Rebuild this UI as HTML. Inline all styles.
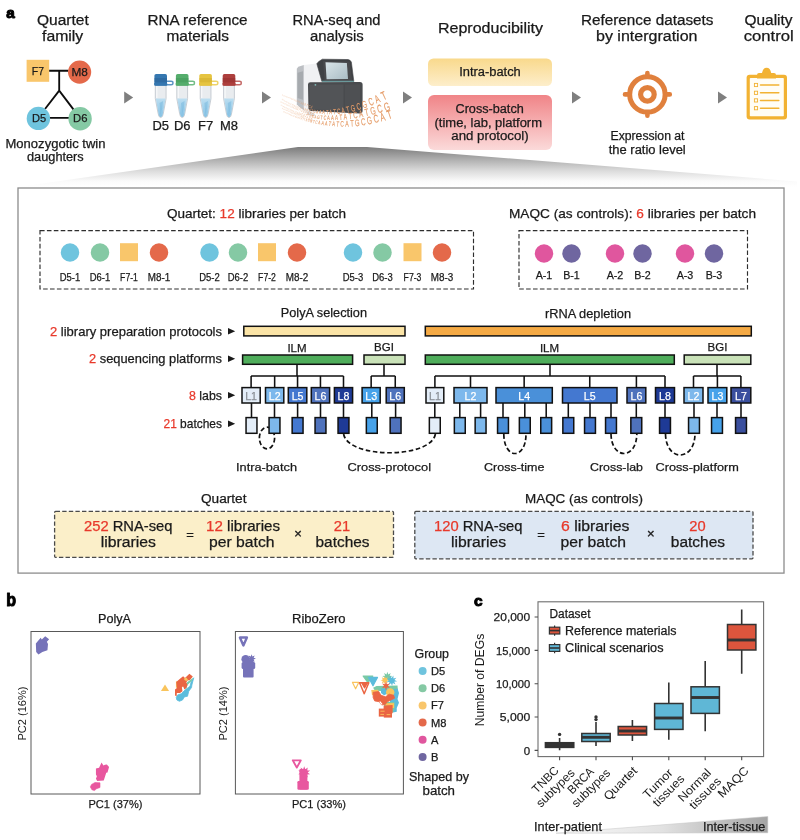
<!DOCTYPE html>
<html><head><meta charset="utf-8"><title>Figure</title>
<style>
html,body{margin:0;padding:0;background:#fff;}
svg{display:block;font-family:"Liberation Sans",sans-serif;}
</style></head><body>
<svg width="800" height="840" viewBox="0 0 800 840">
<defs>
<linearGradient id="gf" x1="0" y1="0" x2="0" y2="1"><stop offset="0" stop-color="#7c7c7c"/><stop offset="0.3" stop-color="#adadad"/><stop offset="0.6" stop-color="#dcdcdc"/><stop offset="0.85" stop-color="#fafafa"/><stop offset="1" stop-color="#ffffff"/></linearGradient>
<linearGradient id="gy" x1="0" y1="0" x2="0" y2="1"><stop offset="0" stop-color="#f9d98c"/><stop offset="1" stop-color="#fdeecb"/></linearGradient>
<linearGradient id="gr" x1="0" y1="0" x2="0" y2="1"><stop offset="0" stop-color="#f08487"/><stop offset="1" stop-color="#fbdada"/></linearGradient>
<linearGradient id="gt" x1="0" y1="0" x2="1" y2="0"><stop offset="0" stop-color="#fbfbfb"/><stop offset="0.5" stop-color="#e2e2e2"/><stop offset="1" stop-color="#a4a4a4"/></linearGradient>
<linearGradient id="gliq" x1="0" y1="0" x2="0" y2="1"><stop offset="0" stop-color="#bcdef1"/><stop offset="1" stop-color="#86c2e4"/></linearGradient>
<linearGradient id="gscr" x1="0" y1="0" x2="1" y2="1"><stop offset="0" stop-color="#d9e4e8"/><stop offset="1" stop-color="#a9bcc4"/></linearGradient>
<linearGradient id="gside" x1="0" y1="0" x2="1" y2="0"><stop offset="0" stop-color="#c9ccd0"/><stop offset="1" stop-color="#f2f3f5"/></linearGradient>
</defs>
<text x="6.20" y="17.50" font-size="14.4" fill="#000" textLength="8.50" lengthAdjust="spacingAndGlyphs" font-weight="bold" stroke="#000" stroke-width="1.0" stroke-linejoin="round">a</text>
<text x="37.00" y="24.70" font-size="14" fill="#1a1a1a" stroke="#1a1a1a" stroke-width="0.25" textLength="51.75" lengthAdjust="spacingAndGlyphs">Quartet</text>
<text x="42.00" y="40.70" font-size="14" fill="#1a1a1a" stroke="#1a1a1a" stroke-width="0.25" textLength="41.25" lengthAdjust="spacingAndGlyphs">family</text>
<text x="147.50" y="24.70" font-size="14" fill="#1a1a1a" stroke="#1a1a1a" stroke-width="0.25" textLength="100.00" lengthAdjust="spacingAndGlyphs">RNA reference</text>
<text x="166.50" y="40.70" font-size="14" fill="#1a1a1a" stroke="#1a1a1a" stroke-width="0.25" textLength="62.50" lengthAdjust="spacingAndGlyphs">materials</text>
<text x="292.50" y="24.70" font-size="14" fill="#1a1a1a" stroke="#1a1a1a" stroke-width="0.25" textLength="88.00" lengthAdjust="spacingAndGlyphs">RNA-seq and</text>
<text x="310.00" y="40.70" font-size="14" fill="#1a1a1a" stroke="#1a1a1a" stroke-width="0.25" textLength="53.75" lengthAdjust="spacingAndGlyphs">analysis</text>
<text x="438.00" y="32.90" font-size="14" fill="#1a1a1a" stroke="#1a1a1a" stroke-width="0.25" textLength="105.00" lengthAdjust="spacingAndGlyphs">Reproducibility</text>
<text x="581.00" y="24.70" font-size="14" fill="#1a1a1a" stroke="#1a1a1a" stroke-width="0.25" textLength="132.50" lengthAdjust="spacingAndGlyphs">Reference datasets</text>
<text x="596.00" y="40.70" font-size="14" fill="#1a1a1a" stroke="#1a1a1a" stroke-width="0.25" textLength="101.50" lengthAdjust="spacingAndGlyphs">by intergration</text>
<text x="744.50" y="24.70" font-size="14" fill="#1a1a1a" stroke="#1a1a1a" stroke-width="0.25" textLength="48.00" lengthAdjust="spacingAndGlyphs">Quality</text>
<text x="743.75" y="40.70" font-size="14" fill="#1a1a1a" stroke="#1a1a1a" stroke-width="0.25" textLength="50.00" lengthAdjust="spacingAndGlyphs">control</text>
<g stroke="#0d0d0d" stroke-width="1.85" fill="none" stroke-linecap="butt"><path d="M49 70.7H68.5M59.2 70.7V91M59.2 90.6L45 109M59.2 90.6L73.6 109.6M49 117.9H69.5"/></g>
<rect x="26.6" y="59.8" width="22.6" height="22" fill="#f9c66b"/>
<circle cx="79.6" cy="72.1" r="11.6" fill="#e4694a"/>
<circle cx="38.4" cy="118.4" r="11.7" fill="#6fc4de"/>
<circle cx="80.1" cy="118.8" r="11.7" fill="#85c9a4"/>
<text x="31.80" y="74.50" font-size="11.2" fill="#1a1a1a" stroke="#1a1a1a" stroke-width="0.25" textLength="12.20" lengthAdjust="spacingAndGlyphs">F7</text>
<text x="71.40" y="75.60" font-size="11.2" fill="#1a1a1a" stroke="#1a1a1a" stroke-width="0.25" textLength="16.40" lengthAdjust="spacingAndGlyphs">M8</text>
<text x="32.00" y="121.60" font-size="11.2" fill="#1a1a1a" stroke="#1a1a1a" stroke-width="0.25" textLength="14.20" lengthAdjust="spacingAndGlyphs">D5</text>
<text x="73.00" y="122.00" font-size="11.2" fill="#1a1a1a" stroke="#1a1a1a" stroke-width="0.25" textLength="14.40" lengthAdjust="spacingAndGlyphs">D6</text>
<text x="5.50" y="147.60" font-size="12" fill="#1a1a1a" stroke="#1a1a1a" stroke-width="0.25" textLength="100.00" lengthAdjust="spacingAndGlyphs">Monozygotic twin</text>
<text x="27.00" y="161.10" font-size="12" fill="#1a1a1a" stroke="#1a1a1a" stroke-width="0.25" textLength="56.75" lengthAdjust="spacingAndGlyphs">daughters</text>
<path d="M124.2 91.5L133.2 97.5L124.2 103.5Z" fill="#7f7f7f"/>
<path d="M262 91.5L271 97.5L262 103.5Z" fill="#7f7f7f"/>
<path d="M403 91.5L412 97.5L403 103.5Z" fill="#7f7f7f"/>
<path d="M572 91.5L581 97.5L572 103.5Z" fill="#7f7f7f"/>
<path d="M718 91.5L727 97.5L718 103.5Z" fill="#7f7f7f"/>
<path d="M155.29999999999998 85 L155.29999999999998 98.6 L158.0 113 Q158.5 117.5 160.7 117.6 Q162.89999999999998 117.5 163.39999999999998 113 L166.1 98.6 L166.1 85Z" fill="#e9ecef" stroke="#b4bcc4" stroke-width="0.7"/>
<path d="M156.79999999999998 86 V98" stroke="#f8f9fa" stroke-width="1.2"/>
<path d="M155.79999999999998 98.6 L158.35 112.8 Q158.79999999999998 116.9 160.7 117 Q162.6 116.9 163.04999999999998 112.8 L165.6 98.6Z" fill="url(#gliq)"/>
<path d="M159.5 103 L160.5 115 L162.29999999999998 108 L163.1 101Z" fill="#6fb4dc" opacity="0.45"/>
<path d="M165.7 84.8 H171.1 Q173.0 84.8 173.0 83 Q173.0 81.3 171.1 81.3 H166.7" fill="none" stroke="#5b93c4" stroke-width="1.4"/>
<rect x="154.39999999999998" y="74.1" width="12.6" height="11.4" rx="1.7" fill="#3577b0"/>
<rect x="154.39999999999998" y="78" width="12.6" height="4.4" fill="#2a6398" opacity="0.55"/>
<rect x="154.14999999999998" y="82.8" width="13.1" height="2.9" rx="0.9" fill="#3577b0"/>
<text x="152.42" y="129.80" font-size="12" fill="#1a1a1a" stroke="#1a1a1a" stroke-width="0.25" textLength="16.57" lengthAdjust="spacingAndGlyphs">D5</text>
<path d="M176.79999999999998 85 L176.79999999999998 98.6 L179.5 113 Q180.0 117.5 182.2 117.6 Q184.39999999999998 117.5 184.89999999999998 113 L187.6 98.6 L187.6 85Z" fill="#e9ecef" stroke="#b4bcc4" stroke-width="0.7"/>
<path d="M178.29999999999998 86 V98" stroke="#f8f9fa" stroke-width="1.2"/>
<path d="M177.29999999999998 98.6 L179.85 112.8 Q180.29999999999998 116.9 182.2 117 Q184.1 116.9 184.54999999999998 112.8 L187.1 98.6Z" fill="url(#gliq)"/>
<path d="M181.0 103 L182.0 115 L183.79999999999998 108 L184.6 101Z" fill="#6fb4dc" opacity="0.45"/>
<path d="M187.2 84.8 H192.6 Q194.5 84.8 194.5 83 Q194.5 81.3 192.6 81.3 H188.2" fill="none" stroke="#72bd86" stroke-width="1.4"/>
<rect x="175.89999999999998" y="74.1" width="12.6" height="11.4" rx="1.7" fill="#55ad6c"/>
<rect x="175.89999999999998" y="78" width="12.6" height="4.4" fill="#43995b" opacity="0.55"/>
<rect x="175.64999999999998" y="82.8" width="13.1" height="2.9" rx="0.9" fill="#55ad6c"/>
<text x="173.92" y="129.80" font-size="12" fill="#1a1a1a" stroke="#1a1a1a" stroke-width="0.25" textLength="16.57" lengthAdjust="spacingAndGlyphs">D6</text>
<path d="M200.2 85 L200.2 98.6 L202.9 113 Q203.4 117.5 205.6 117.6 Q207.79999999999998 117.5 208.29999999999998 113 L211.0 98.6 L211.0 85Z" fill="#e9ecef" stroke="#b4bcc4" stroke-width="0.7"/>
<path d="M201.7 86 V98" stroke="#f8f9fa" stroke-width="1.2"/>
<path d="M200.7 98.6 L203.25 112.8 Q203.7 116.9 205.6 117 Q207.5 116.9 207.95 112.8 L210.5 98.6Z" fill="url(#gliq)"/>
<path d="M204.4 103 L205.4 115 L207.2 108 L208.0 101Z" fill="#6fb4dc" opacity="0.45"/>
<path d="M210.6 84.8 H216.0 Q217.9 84.8 217.9 83 Q217.9 81.3 216.0 81.3 H211.6" fill="none" stroke="#edd36a" stroke-width="1.4"/>
<rect x="199.29999999999998" y="74.1" width="12.6" height="11.4" rx="1.7" fill="#e6c440"/>
<rect x="199.29999999999998" y="78" width="12.6" height="4.4" fill="#d2ae2e" opacity="0.55"/>
<rect x="199.04999999999998" y="82.8" width="13.1" height="2.9" rx="0.9" fill="#e6c440"/>
<text x="198.04" y="129.80" font-size="12" fill="#1a1a1a" stroke="#1a1a1a" stroke-width="0.25" textLength="15.12" lengthAdjust="spacingAndGlyphs">F7</text>
<path d="M223.6 85 L223.6 98.6 L226.3 113 Q226.8 117.5 229.0 117.6 Q231.2 117.5 231.7 113 L234.4 98.6 L234.4 85Z" fill="#e9ecef" stroke="#b4bcc4" stroke-width="0.7"/>
<path d="M225.1 86 V98" stroke="#f8f9fa" stroke-width="1.2"/>
<path d="M224.1 98.6 L226.65 112.8 Q227.1 116.9 229.0 117 Q230.9 116.9 231.35 112.8 L233.9 98.6Z" fill="url(#gliq)"/>
<path d="M227.8 103 L228.8 115 L230.6 108 L231.4 101Z" fill="#6fb4dc" opacity="0.45"/>
<path d="M234.0 84.8 H239.4 Q241.3 84.8 241.3 83 Q241.3 81.3 239.4 81.3 H235.0" fill="none" stroke="#c46866" stroke-width="1.4"/>
<rect x="222.7" y="74.1" width="12.6" height="11.4" rx="1.7" fill="#ad3f3d"/>
<rect x="222.7" y="78" width="12.6" height="4.4" fill="#96302f" opacity="0.55"/>
<rect x="222.45" y="82.8" width="13.1" height="2.9" rx="0.9" fill="#ad3f3d"/>
<text x="220.00" y="129.80" font-size="12" fill="#1a1a1a" stroke="#1a1a1a" stroke-width="0.25" textLength="18.00" lengthAdjust="spacingAndGlyphs">M8</text>
<path d="M296.81 68.87 L298.27 66.85 L303.90 65.05 L303.90 110.50 L298.27 106.00 L296.81 104.31Z" fill="#bcbfc3"/>
<path d="M297.60 72.81 L303.00 71.35 L303.00 99.81 L297.60 98.12Z" fill="#a6aaae"/>
<path d="M303.90 65.05 L318.75 63.25 L322.12 81.47 L308.62 82.94 L308.06 110.50 L314.81 115.00 L314.47 116.35 L307.50 114.77 L303.90 110.50Z" fill="#f0f1f3"/>
<path d="M308.06 110.50 L314.81 113.65 L314.81 116.35 L307.50 114.77Z" fill="#dcdee1"/>
<path d="M316.84 63.70 L318.75 61.56 L322.35 59.20 L348.00 59.54 L350.02 60.32 L351.37 62.12 L353.85 81.47 L321.90 81.47Z" fill="#3f4144" stroke="#3f4144" stroke-width="0.6" stroke-linejoin="round"/>
<path d="M323.02 61.22 L349.69 61.45 L352.27 81.02 L324.60 81.02Z" fill="#48494c"/>
<path d="M325.50 62.35 L346.87 62.91 L348.00 79.00 L326.62 79.34Z" fill="url(#gscr)"/>
<path d="M322.12 80.69 L353.85 80.69 L353.96 82.15 L322.12 82.15Z" fill="#6b999b"/>
<path d="M308 84.6 Q308 82.2 310.4 82.2 L360 82 Q362.6 82 362.6 84.6 L362.6 110.8 Q362.6 113.4 360 113.4 L311 111 Q308.6 110.8 308.4 108.6Z" fill="#494b4e"/>
<path d="M309.19 84.62 L343.50 84.40 L343.50 110.50 L309.97 109.60Z" fill="#525457"/>
<path d="M344.85 84.40 L360.15 84.17 L360.15 111.40 L344.85 110.72Z" fill="#4e5053"/>
<circle cx="315.4" cy="84.8" r="0.9" fill="#7fb7b3"/>
<g fill="#e59c68" stroke="#e59c68" stroke-width="0.15"><text transform="translate(281.74 99.55) rotate(33.0) scale(0.62 1)" font-size="1.33" opacity="0.35">A</text><text transform="translate(282.56 100.08) rotate(32.5) scale(0.62 1)" font-size="1.39" opacity="0.35">G</text><text transform="translate(283.46 100.65) rotate(31.9) scale(0.62 1)" font-size="1.44" opacity="0.35">T</text><text transform="translate(284.24 101.13) rotate(31.4) scale(0.62 1)" font-size="1.50" opacity="0.35">A</text><text transform="translate(285.16 101.69) rotate(30.8) scale(0.62 1)" font-size="1.56" opacity="0.35">C</text><text transform="translate(286.12 102.25) rotate(30.2) scale(0.62 1)" font-size="1.62" opacity="0.35">C</text><text transform="translate(287.11 102.82) rotate(29.5) scale(0.62 1)" font-size="1.68" opacity="0.35">T</text><text transform="translate(288.03 103.33) rotate(28.9) scale(0.62 1)" font-size="1.75" opacity="0.35">G</text><text transform="translate(289.17 103.95) rotate(28.1) scale(0.62 1)" font-size="1.82" opacity="0.35">A</text><text transform="translate(290.28 104.54) rotate(27.4) scale(0.62 1)" font-size="1.90" opacity="0.35">A</text><text transform="translate(291.45 105.13) rotate(26.6) scale(0.62 1)" font-size="1.97" opacity="0.36">T</text><text transform="translate(292.52 105.66) rotate(25.8) scale(0.62 1)" font-size="2.04" opacity="0.37">C</text><text transform="translate(293.78 106.25) rotate(25.0) scale(0.62 1)" font-size="2.13" opacity="0.39">G</text><text transform="translate(295.16 106.88) rotate(24.0) scale(0.62 1)" font-size="2.22" opacity="0.40">G</text><text transform="translate(296.60 107.51) rotate(23.0) scale(0.62 1)" font-size="2.31" opacity="0.42">A</text><text transform="translate(298.02 108.10) rotate(22.0) scale(0.62 1)" font-size="2.41" opacity="0.44">C</text><text transform="translate(299.50 108.68) rotate(21.0) scale(0.62 1)" font-size="2.51" opacity="0.46">A</text><text transform="translate(301.05 109.26) rotate(19.9) scale(0.62 1)" font-size="2.72" opacity="0.49">T</text><text transform="translate(302.55 109.79) rotate(18.8) scale(0.62 1)" font-size="2.93" opacity="0.53">T</text><text transform="translate(304.17 110.32) rotate(17.7) scale(0.62 1)" font-size="3.18" opacity="0.58">A</text><text transform="translate(306.15 110.92) rotate(16.2) scale(0.62 1)" font-size="3.47" opacity="0.63">G</text><text transform="translate(308.43 111.56) rotate(14.6) scale(0.62 1)" font-size="3.80" opacity="0.69">G</text><text transform="translate(310.93 112.16) rotate(12.8) scale(0.62 1)" font-size="4.14" opacity="0.75">T</text><text transform="translate(313.22 112.65) rotate(11.2) scale(0.62 1)" font-size="4.49" opacity="0.82">C</text><text transform="translate(316.01 113.15) rotate(9.2) scale(0.62 1)" font-size="4.89" opacity="0.89">A</text><text transform="translate(319.05 113.59) rotate(7.1) scale(0.62 1)" font-size="5.32" opacity="0.97">A</text><text transform="translate(322.35 113.94) rotate(4.8) scale(0.62 1)" font-size="5.72" opacity="1.00">A</text><text transform="translate(325.89 114.16) rotate(2.5) scale(0.62 1)" font-size="6.12" opacity="1.00">T</text><text transform="translate(329.25 114.24) rotate(0.2) scale(0.62 1)" font-size="6.55" opacity="1.00">A</text><text transform="translate(333.30 114.17) rotate(-2.3) scale(0.62 1)" font-size="7.00" opacity="1.00">T</text><text transform="translate(337.15 113.93) rotate(-4.7) scale(0.62 1)" font-size="7.49" opacity="1.00">C</text><text transform="translate(341.80 113.44) rotate(-7.4) scale(0.62 1)" font-size="8.05" opacity="1.00">A</text><text transform="translate(346.78 112.66) rotate(-10.2) scale(0.62 1)" font-size="8.61" opacity="1.00">T</text><text transform="translate(351.50 111.71) rotate(-12.6) scale(0.62 1)" font-size="9.11" opacity="1.00">G</text><text transform="translate(357.43 110.22) rotate(-15.5) scale(0.62 1)" font-size="9.62" opacity="1.00">C</text><text transform="translate(363.36 108.43) rotate(-18.1) scale(0.62 1)" font-size="10.15" opacity="1.00">G</text><text transform="translate(369.97 106.09) rotate(-20.7) scale(0.62 1)" font-size="10.71" opacity="1.00">C</text><text transform="translate(376.57 103.44) rotate(-23.1) scale(0.62 1)" font-size="11.29" opacity="1.00">A</text><text transform="translate(383.52 100.32) rotate(-25.2) scale(0.62 1)" font-size="11.83" opacity="1.00">T</text></g>
<g fill="#e59c68" stroke="#e59c68" stroke-width="0.15"><text transform="translate(280.54 105.34) rotate(31.3) scale(0.62 1)" font-size="1.25" opacity="0.35">T</text><text transform="translate(281.22 105.75) rotate(30.9) scale(0.62 1)" font-size="1.30" opacity="0.35">C</text><text transform="translate(282.02 106.22) rotate(30.4) scale(0.62 1)" font-size="1.35" opacity="0.35">T</text><text transform="translate(282.76 106.65) rotate(30.0) scale(0.62 1)" font-size="1.40" opacity="0.35">G</text><text transform="translate(283.66 107.17) rotate(29.4) scale(0.62 1)" font-size="1.46" opacity="0.35">A</text><text transform="translate(284.56 107.67) rotate(28.9) scale(0.62 1)" font-size="1.52" opacity="0.35">G</text><text transform="translate(285.55 108.20) rotate(28.3) scale(0.62 1)" font-size="1.58" opacity="0.35">T</text><text transform="translate(286.41 108.66) rotate(27.7) scale(0.62 1)" font-size="1.64" opacity="0.35">A</text><text transform="translate(287.42 109.19) rotate(27.1) scale(0.62 1)" font-size="1.71" opacity="0.35">C</text><text transform="translate(288.46 109.71) rotate(26.5) scale(0.62 1)" font-size="1.78" opacity="0.35">C</text><text transform="translate(289.55 110.25) rotate(25.8) scale(0.62 1)" font-size="1.84" opacity="0.35">T</text><text transform="translate(290.56 110.73) rotate(25.1) scale(0.62 1)" font-size="1.92" opacity="0.35">G</text><text transform="translate(291.80 111.30) rotate(24.4) scale(0.62 1)" font-size="2.00" opacity="0.36">A</text><text transform="translate(293.03 111.85) rotate(23.6) scale(0.62 1)" font-size="2.08" opacity="0.38">A</text><text transform="translate(294.30 112.39) rotate(22.8) scale(0.62 1)" font-size="2.16" opacity="0.39">T</text><text transform="translate(295.48 112.88) rotate(22.0) scale(0.62 1)" font-size="2.24" opacity="0.41">C</text><text transform="translate(296.85 113.42) rotate(21.2) scale(0.62 1)" font-size="2.33" opacity="0.42">G</text><text transform="translate(298.36 113.99) rotate(20.2) scale(0.62 1)" font-size="2.43" opacity="0.44">G</text><text transform="translate(299.95 114.56) rotate(19.2) scale(0.62 1)" font-size="2.57" opacity="0.47">A</text><text transform="translate(301.55 115.10) rotate(18.2) scale(0.62 1)" font-size="2.80" opacity="0.51">C</text><text transform="translate(303.29 115.66) rotate(17.1) scale(0.62 1)" font-size="3.05" opacity="0.56">A</text><text transform="translate(305.19 116.22) rotate(16.0) scale(0.62 1)" font-size="3.31" opacity="0.60">T</text><text transform="translate(307.01 116.73) rotate(14.8) scale(0.62 1)" font-size="3.57" opacity="0.65">T</text><text transform="translate(308.99 117.23) rotate(13.6) scale(0.62 1)" font-size="3.88" opacity="0.70">A</text><text transform="translate(311.40 117.78) rotate(12.2) scale(0.62 1)" font-size="4.23" opacity="0.77">G</text><text transform="translate(314.18 118.34) rotate(10.5) scale(0.62 1)" font-size="4.63" opacity="0.84">A</text><text transform="translate(317.06 118.83) rotate(8.8) scale(0.62 1)" font-size="5.05" opacity="0.92">G</text><text transform="translate(320.37 119.28) rotate(6.9) scale(0.62 1)" font-size="5.46" opacity="0.99">T</text><text transform="translate(323.38 119.60) rotate(5.3) scale(0.62 1)" font-size="5.84" opacity="1.00">C</text><text transform="translate(327.00 119.87) rotate(3.3) scale(0.62 1)" font-size="6.28" opacity="1.00">A</text><text transform="translate(330.88 120.03) rotate(1.3) scale(0.62 1)" font-size="6.74" opacity="1.00">A</text><text transform="translate(335.06 120.05) rotate(-0.7) scale(0.62 1)" font-size="7.24" opacity="1.00">A</text><text transform="translate(339.54 119.91) rotate(-2.8) scale(0.62 1)" font-size="7.75" opacity="1.00">T</text><text transform="translate(343.80 119.64) rotate(-4.6) scale(0.62 1)" font-size="8.29" opacity="1.00">A</text><text transform="translate(348.93 119.13) rotate(-6.7) scale(0.62 1)" font-size="8.85" opacity="1.00">T</text><text transform="translate(353.77 118.49) rotate(-8.4) scale(0.62 1)" font-size="9.30" opacity="1.00">C</text><text transform="translate(359.50 117.55) rotate(-10.3) scale(0.62 1)" font-size="9.80" opacity="1.00">A</text><text transform="translate(365.54 116.36) rotate(-12.0) scale(0.62 1)" font-size="10.30" opacity="1.00">T</text><text transform="translate(371.17 115.09) rotate(-13.4) scale(0.62 1)" font-size="10.83" opacity="1.00">G</text><text transform="translate(378.22 113.32) rotate(-14.8) scale(0.62 1)" font-size="11.43" opacity="1.00">C</text><text transform="translate(385.25 111.39) rotate(-15.9) scale(0.62 1)" font-size="11.92" opacity="1.00">G</text></g>
<g fill="#e59c68" stroke="#e59c68" stroke-width="0.15"><text transform="translate(283.13 112.08) rotate(26.1) scale(0.62 1)" font-size="1.43" opacity="0.35">G</text><text transform="translate(284.06 112.53) rotate(25.8) scale(0.62 1)" font-size="1.48" opacity="0.35">T</text><text transform="translate(284.86 112.92) rotate(25.4) scale(0.62 1)" font-size="1.54" opacity="0.35">A</text><text transform="translate(285.81 113.36) rotate(25.1) scale(0.62 1)" font-size="1.60" opacity="0.35">C</text><text transform="translate(286.79 113.82) rotate(24.7) scale(0.62 1)" font-size="1.67" opacity="0.35">C</text><text transform="translate(287.81 114.28) rotate(24.2) scale(0.62 1)" font-size="1.73" opacity="0.35">T</text><text transform="translate(288.75 114.70) rotate(23.9) scale(0.62 1)" font-size="1.80" opacity="0.35">G</text><text transform="translate(289.92 115.21) rotate(23.4) scale(0.62 1)" font-size="1.87" opacity="0.35">A</text><text transform="translate(291.07 115.70) rotate(22.9) scale(0.62 1)" font-size="1.95" opacity="0.35">A</text><text transform="translate(292.27 116.20) rotate(22.4) scale(0.62 1)" font-size="2.02" opacity="0.37">T</text><text transform="translate(293.37 116.65) rotate(22.0) scale(0.62 1)" font-size="2.10" opacity="0.38">C</text><text transform="translate(294.66 117.17) rotate(21.4) scale(0.62 1)" font-size="2.19" opacity="0.40">G</text><text transform="translate(296.08 117.72) rotate(20.8) scale(0.62 1)" font-size="2.28" opacity="0.41">G</text><text transform="translate(297.56 118.27) rotate(20.2) scale(0.62 1)" font-size="2.38" opacity="0.43">A</text><text transform="translate(299.01 118.80) rotate(19.6) scale(0.62 1)" font-size="2.47" opacity="0.45">C</text><text transform="translate(300.55 119.33) rotate(19.0) scale(0.62 1)" font-size="2.66" opacity="0.48">A</text><text transform="translate(302.20 119.89) rotate(18.3) scale(0.62 1)" font-size="2.88" opacity="0.52">T</text><text transform="translate(303.79 120.40) rotate(17.6) scale(0.62 1)" font-size="3.11" opacity="0.57">T</text><text transform="translate(305.50 120.94) rotate(16.8) scale(0.62 1)" font-size="3.37" opacity="0.61">A</text><text transform="translate(307.60 121.55) rotate(15.9) scale(0.62 1)" font-size="3.68" opacity="0.67">G</text><text transform="translate(310.03 122.22) rotate(14.9) scale(0.62 1)" font-size="4.04" opacity="0.73">G</text><text transform="translate(312.67 122.90) rotate(13.7) scale(0.62 1)" font-size="4.39" opacity="0.80">T</text><text transform="translate(315.10 123.46) rotate(12.7) scale(0.62 1)" font-size="4.76" opacity="0.87">C</text><text transform="translate(318.06 124.09) rotate(11.3) scale(0.62 1)" font-size="5.19" opacity="0.94">A</text><text transform="translate(321.27 124.70) rotate(9.9) scale(0.62 1)" font-size="5.59" opacity="1.00">A</text><text transform="translate(324.74 125.26) rotate(8.4) scale(0.62 1)" font-size="6.01" opacity="1.00">A</text><text transform="translate(328.45 125.75) rotate(6.7) scale(0.62 1)" font-size="6.43" opacity="1.00">T</text><text transform="translate(331.99 126.12) rotate(5.2) scale(0.62 1)" font-size="6.87" opacity="1.00">A</text><text transform="translate(336.24 126.43) rotate(3.3) scale(0.62 1)" font-size="7.35" opacity="1.00">T</text><text transform="translate(340.29 126.60) rotate(1.5) scale(0.62 1)" font-size="7.87" opacity="1.00">C</text><text transform="translate(345.16 126.63) rotate(-0.6) scale(0.62 1)" font-size="8.45" opacity="1.00">A</text><text transform="translate(350.38 126.47) rotate(-2.9) scale(0.62 1)" font-size="8.98" opacity="1.00">T</text><text transform="translate(355.29 126.13) rotate(-5.0) scale(0.62 1)" font-size="9.44" opacity="1.00">G</text><text transform="translate(361.44 125.45) rotate(-7.6) scale(0.62 1)" font-size="9.97" opacity="1.00">C</text><text transform="translate(367.59 124.50) rotate(-10.1) scale(0.62 1)" font-size="10.52" opacity="1.00">G</text><text transform="translate(374.44 123.11) rotate(-12.8) scale(0.62 1)" font-size="11.10" opacity="1.00">C</text><text transform="translate(381.28 121.38) rotate(-15.4) scale(0.62 1)" font-size="11.70" opacity="1.00">A</text><text transform="translate(388.44 119.22) rotate(-18.1) scale(0.62 1)" font-size="12.03" opacity="1.00">T</text></g>
<rect x="428" y="58.5" width="124" height="27.5" rx="5.5" fill="url(#gy)"/>
<rect x="428" y="95" width="124" height="55" rx="6" fill="url(#gr)"/>
<text x="459.25" y="76.10" font-size="12" fill="#1a1a1a" stroke="#1a1a1a" stroke-width="0.25" textLength="61.50" lengthAdjust="spacingAndGlyphs">Intra-batch</text>
<text x="455.50" y="112.80" font-size="12" fill="#1a1a1a" stroke="#1a1a1a" stroke-width="0.25" textLength="68.25" lengthAdjust="spacingAndGlyphs">Cross-batch</text>
<text x="434.50" y="126.50" font-size="12" fill="#1a1a1a" stroke="#1a1a1a" stroke-width="0.25" textLength="107.50" lengthAdjust="spacingAndGlyphs">(time, lab, platform</text>
<text x="451.25" y="140.20" font-size="12" fill="#1a1a1a" stroke="#1a1a1a" stroke-width="0.25" textLength="77.50" lengthAdjust="spacingAndGlyphs">and protocol)</text>
<g fill="none" stroke="#e0803d"><circle cx="647.4" cy="94.4" r="17.7" stroke-width="5"/><circle cx="647.4" cy="94.4" r="6.8" stroke-width="5.2"/><path d="M647.4 73V76M647.4 112.8V115.8M625 94.4H628M666.8 94.4H669.8" stroke-width="4.6" stroke-linecap="round"/></g>
<text x="610.50" y="140.20" font-size="12" fill="#1a1a1a" stroke="#1a1a1a" stroke-width="0.25" textLength="74.00" lengthAdjust="spacingAndGlyphs">Expression at</text>
<text x="608.75" y="153.70" font-size="12" fill="#1a1a1a" stroke="#1a1a1a" stroke-width="0.25" textLength="77.00" lengthAdjust="spacingAndGlyphs">the ratio level</text>
<rect x="746.6" y="74.7" width="40.4" height="44.7" rx="3" fill="#f2b233"/>
<rect x="749.8" y="78" width="34" height="38.2" rx="0.8" fill="#fffdf6"/>
<path d="M757 78.5 V75 Q757 73 759 73 H762 Q763 67.8 766.6 67.8 Q770.2 67.8 771.2 73 H774 Q776 73 776 75 V78.5Z" fill="#f2b233"/>
<rect x="754.4" y="83.4" width="3.2" height="3.2" fill="none" stroke="#f2b233" stroke-width="0.9"/>
<path d="M760.5 85H778.8" stroke="#f2b233" stroke-width="1.5" stroke-linecap="round"/>
<rect x="754.4" y="91.2" width="3.2" height="3.2" fill="none" stroke="#f2b233" stroke-width="0.9"/>
<path d="M760.5 92.8H778.8" stroke="#f2b233" stroke-width="1.5" stroke-linecap="round"/>
<rect x="754.4" y="98.80000000000001" width="3.2" height="3.2" fill="none" stroke="#f2b233" stroke-width="0.9"/>
<path d="M760.5 100.4H778.8" stroke="#f2b233" stroke-width="1.5" stroke-linecap="round"/>
<rect x="754.4" y="106.60000000000001" width="3.2" height="3.2" fill="none" stroke="#f2b233" stroke-width="0.9"/>
<path d="M760.5 108.2H778.8" stroke="#f2b233" stroke-width="1.5" stroke-linecap="round"/>
<path d="M18 187 L298 147 L367 147 L797 181.5 L797 187Z" fill="url(#gf)"/>
<rect x="18" y="188" width="766" height="385.1" fill="#fff" stroke="#8c8c8c" stroke-width="1.3"/>
<text x="167.00" y="217.60" font-size="13" stroke-width="0.25" textLength="179.00" lengthAdjust="spacingAndGlyphs" xml:space="preserve"><tspan fill="#1a1a1a" stroke="#1a1a1a">Quartet: </tspan><tspan fill="#e8392b" stroke="#e8392b">12</tspan><tspan fill="#1a1a1a" stroke="#1a1a1a"> libraries per batch</tspan></text>
<text x="509.00" y="217.80" font-size="13" stroke-width="0.25" textLength="247.00" lengthAdjust="spacingAndGlyphs" xml:space="preserve"><tspan fill="#1a1a1a" stroke="#1a1a1a">MAQC (as controls): </tspan><tspan fill="#e8392b" stroke="#e8392b">6</tspan><tspan fill="#1a1a1a" stroke="#1a1a1a"> libraries per batch</tspan></text>
<rect x="40" y="230.6" width="433.5" height="58.4" stroke="#2e2e2e" stroke-width="1.15" stroke-dasharray="4.6 2.3" fill="none"/>
<rect x="519" y="230.6" width="228.5" height="58.4" stroke="#2e2e2e" stroke-width="1.15" stroke-dasharray="4.6 2.3" fill="none"/>
<circle cx="70" cy="252.5" r="9.2" fill="#6fc4de"/>
<circle cx="100" cy="252.5" r="9.2" fill="#85c9a4"/>
<rect x="120" y="243.2" width="18" height="18" fill="#f9c66b"/>
<circle cx="159" cy="252.5" r="9.2" fill="#e4694a"/>
<text x="59.75" y="280.70" font-size="10.6" fill="#1a1a1a" stroke="#1a1a1a" stroke-width="0.25" textLength="20.50" lengthAdjust="spacingAndGlyphs">D5-1</text>
<text x="89.75" y="280.70" font-size="10.6" fill="#1a1a1a" stroke="#1a1a1a" stroke-width="0.25" textLength="20.50" lengthAdjust="spacingAndGlyphs">D6-1</text>
<text x="120.10" y="280.70" font-size="10.6" fill="#1a1a1a" stroke="#1a1a1a" stroke-width="0.25" textLength="17.80" lengthAdjust="spacingAndGlyphs">F7-1</text>
<text x="147.75" y="280.70" font-size="10.6" fill="#1a1a1a" stroke="#1a1a1a" stroke-width="0.25" textLength="22.50" lengthAdjust="spacingAndGlyphs">M8-1</text>
<circle cx="209.5" cy="252.5" r="9.2" fill="#6fc4de"/>
<circle cx="238" cy="252.5" r="9.2" fill="#85c9a4"/>
<rect x="258" y="243.2" width="18" height="18" fill="#f9c66b"/>
<circle cx="297" cy="252.5" r="9.2" fill="#e4694a"/>
<text x="199.25" y="280.70" font-size="10.6" fill="#1a1a1a" stroke="#1a1a1a" stroke-width="0.25" textLength="20.50" lengthAdjust="spacingAndGlyphs">D5-2</text>
<text x="227.75" y="280.70" font-size="10.6" fill="#1a1a1a" stroke="#1a1a1a" stroke-width="0.25" textLength="20.50" lengthAdjust="spacingAndGlyphs">D6-2</text>
<text x="258.10" y="280.70" font-size="10.6" fill="#1a1a1a" stroke="#1a1a1a" stroke-width="0.25" textLength="17.80" lengthAdjust="spacingAndGlyphs">F7-2</text>
<text x="285.75" y="280.70" font-size="10.6" fill="#1a1a1a" stroke="#1a1a1a" stroke-width="0.25" textLength="22.50" lengthAdjust="spacingAndGlyphs">M8-2</text>
<circle cx="353" cy="252.5" r="9.2" fill="#6fc4de"/>
<circle cx="382.5" cy="252.5" r="9.2" fill="#85c9a4"/>
<rect x="403.5" y="243.2" width="18" height="18" fill="#f9c66b"/>
<circle cx="442" cy="252.5" r="9.2" fill="#e4694a"/>
<text x="342.75" y="280.70" font-size="10.6" fill="#1a1a1a" stroke="#1a1a1a" stroke-width="0.25" textLength="20.50" lengthAdjust="spacingAndGlyphs">D5-3</text>
<text x="372.25" y="280.70" font-size="10.6" fill="#1a1a1a" stroke="#1a1a1a" stroke-width="0.25" textLength="20.50" lengthAdjust="spacingAndGlyphs">D6-3</text>
<text x="403.60" y="280.70" font-size="10.6" fill="#1a1a1a" stroke="#1a1a1a" stroke-width="0.25" textLength="17.80" lengthAdjust="spacingAndGlyphs">F7-3</text>
<text x="430.75" y="280.70" font-size="10.6" fill="#1a1a1a" stroke="#1a1a1a" stroke-width="0.25" textLength="22.50" lengthAdjust="spacingAndGlyphs">M8-3</text>
<circle cx="544" cy="253.5" r="9.2" fill="#e0569e"/>
<circle cx="571.5" cy="253.5" r="9.2" fill="#6f66a0"/>
<text x="535.70" y="279.00" font-size="11" fill="#1a1a1a" stroke="#1a1a1a" stroke-width="0.25" textLength="16.61" lengthAdjust="spacingAndGlyphs">A-1</text>
<text x="563.20" y="279.00" font-size="11" fill="#1a1a1a" stroke="#1a1a1a" stroke-width="0.25" textLength="16.61" lengthAdjust="spacingAndGlyphs">B-1</text>
<circle cx="615" cy="253.5" r="9.2" fill="#e0569e"/>
<circle cx="642.5" cy="253.5" r="9.2" fill="#6f66a0"/>
<text x="606.70" y="279.00" font-size="11" fill="#1a1a1a" stroke="#1a1a1a" stroke-width="0.25" textLength="16.61" lengthAdjust="spacingAndGlyphs">A-2</text>
<text x="634.20" y="279.00" font-size="11" fill="#1a1a1a" stroke="#1a1a1a" stroke-width="0.25" textLength="16.61" lengthAdjust="spacingAndGlyphs">B-2</text>
<circle cx="685" cy="253.5" r="9.2" fill="#e0569e"/>
<circle cx="714" cy="253.5" r="9.2" fill="#6f66a0"/>
<text x="676.70" y="279.00" font-size="11" fill="#1a1a1a" stroke="#1a1a1a" stroke-width="0.25" textLength="16.61" lengthAdjust="spacingAndGlyphs">A-3</text>
<text x="705.70" y="279.00" font-size="11" fill="#1a1a1a" stroke="#1a1a1a" stroke-width="0.25" textLength="16.61" lengthAdjust="spacingAndGlyphs">B-3</text>
<text x="50.00" y="335.60" font-size="13" stroke-width="0.25" textLength="172.00" lengthAdjust="spacingAndGlyphs" xml:space="preserve"><tspan fill="#e8392b" stroke="#e8392b">2</tspan><tspan fill="#1a1a1a" stroke="#1a1a1a"> library preparation protocols</tspan></text>
<path d="M228 328.0L235.2 331.3L228 334.6Z" fill="#1a1a1a"/>
<text x="89.00" y="363.10" font-size="13" stroke-width="0.25" textLength="133.00" lengthAdjust="spacingAndGlyphs" xml:space="preserve"><tspan fill="#e8392b" stroke="#e8392b">2</tspan><tspan fill="#1a1a1a" stroke="#1a1a1a"> sequencing platforms</tspan></text>
<path d="M228 355.5L235.2 358.8L228 362.1Z" fill="#1a1a1a"/>
<text x="189.00" y="399.60" font-size="13" stroke-width="0.25" textLength="33.00" lengthAdjust="spacingAndGlyphs" xml:space="preserve"><tspan fill="#e8392b" stroke="#e8392b">8</tspan><tspan fill="#1a1a1a" stroke="#1a1a1a"> labs</tspan></text>
<path d="M228 392.0L235.2 395.3L228 398.6Z" fill="#1a1a1a"/>
<text x="163.50" y="428.10" font-size="13" stroke-width="0.25" textLength="58.50" lengthAdjust="spacingAndGlyphs" xml:space="preserve"><tspan fill="#e8392b" stroke="#e8392b">21</tspan><tspan fill="#1a1a1a" stroke="#1a1a1a"> batches</tspan></text>
<path d="M228 420.5L235.2 423.8L228 427.1Z" fill="#1a1a1a"/>
<text x="280.75" y="317.00" font-size="13" fill="#1a1a1a" stroke="#1a1a1a" stroke-width="0.25" textLength="86.25" lengthAdjust="spacingAndGlyphs">PolyA selection</text>
<text x="545.00" y="317.50" font-size="13" fill="#1a1a1a" stroke="#1a1a1a" stroke-width="0.25" textLength="86.00" lengthAdjust="spacingAndGlyphs">rRNA depletion</text>
<rect x="243.8" y="326.3" width="161.2" height="9.6" fill="#fbe4a6" stroke="#111" stroke-width="1.5"/>
<rect x="425.3" y="326.3" width="326" height="9.6" fill="#f5aa45" stroke="#111" stroke-width="1.5"/>
<rect x="242.6" y="355" width="110" height="9.3" fill="#4fad5b" stroke="#111" stroke-width="1.5"/>
<rect x="364" y="355" width="41" height="9.3" fill="#c9e2b8" stroke="#111" stroke-width="1.5"/>
<rect x="425.3" y="355" width="249" height="9.3" fill="#4fad5b" stroke="#111" stroke-width="1.5"/>
<rect x="684.2" y="355" width="66.6" height="9.3" fill="#c9e2b8" stroke="#111" stroke-width="1.5"/>
<text x="287.41" y="351.60" font-size="11.5" fill="#1a1a1a" stroke="#1a1a1a" stroke-width="0.25" textLength="19.17" lengthAdjust="spacingAndGlyphs">ILM</text>
<text x="374.09" y="350.50" font-size="11.5" fill="#1a1a1a" stroke="#1a1a1a" stroke-width="0.25" textLength="19.81" lengthAdjust="spacingAndGlyphs">BGI</text>
<text x="539.91" y="351.60" font-size="11.5" fill="#1a1a1a" stroke="#1a1a1a" stroke-width="0.25" textLength="19.17" lengthAdjust="spacingAndGlyphs">ILM</text>
<text x="707.59" y="350.50" font-size="11.5" fill="#1a1a1a" stroke="#1a1a1a" stroke-width="0.25" textLength="19.81" lengthAdjust="spacingAndGlyphs">BGI</text>
<ellipse cx="267" cy="438" rx="7.6" ry="10.8" stroke="#111" stroke-width="1.7" stroke-dasharray="4.6 2.6" fill="none"/>
<path d="M343.6 434 C348 459 431 459 435.4 434" stroke="#111" stroke-width="1.7" stroke-dasharray="4.6 2.6" fill="none"/>
<path d="M503.8 434 C504 460 526 460 526 434" stroke="#111" stroke-width="1.7" stroke-dasharray="4.6 2.6" fill="none"/>
<path d="M611 434 C611.5 460 636.5 460 636.8 434" stroke="#111" stroke-width="1.7" stroke-dasharray="4.6 2.6" fill="none"/>
<path d="M665.5 434 C666 462 694.5 462 695 434" stroke="#111" stroke-width="1.7" stroke-dasharray="4.6 2.6" fill="none"/>
<path d="M297 364.3V376H251.1M297 376H343.5M251.1 376V387.6M274.65 376V387.6M297.55 376V387.6M320.45000000000005 376V387.6M343.5 376V387.6M251.5 403V417.5M274.5 403V417.5M297.6 403V417.5M320.5 403V417.5M343.5 403V417.5" stroke="#111" stroke-width="1.55" fill="none"/>
<rect x="242" y="387.6" width="18.19999999999999" height="15.4" fill="#e3edf8" stroke="#111" stroke-width="1.5"/>
<text x="245.19" y="399.90" font-size="11.8" fill="#8a8f96" textLength="11.81" lengthAdjust="spacingAndGlyphs" stroke="#8a8f96" stroke-width="0.25">L1</text>
<rect x="246.05" y="417.6" width="10.9" height="15.7" fill="#e3edf8" stroke="#111" stroke-width="1.5"/>
<rect x="265.5" y="387.6" width="18.30000000000001" height="15.4" fill="#7db8ec" stroke="#111" stroke-width="1.5"/>
<text x="268.74" y="399.90" font-size="11.8" fill="#ffffff" textLength="11.81" lengthAdjust="spacingAndGlyphs" stroke="#ffffff" stroke-width="0.25">L2</text>
<rect x="269.05" y="417.6" width="10.9" height="15.7" fill="#7db8ec" stroke="#111" stroke-width="1.5"/>
<rect x="288.3" y="387.6" width="18.5" height="15.4" fill="#4478d0" stroke="#111" stroke-width="1.5"/>
<text x="291.64" y="399.90" font-size="11.8" fill="#ffffff" textLength="11.81" lengthAdjust="spacingAndGlyphs" stroke="#ffffff" stroke-width="0.25">L5</text>
<rect x="292.15000000000003" y="417.6" width="10.9" height="15.7" fill="#4478d0" stroke="#111" stroke-width="1.5"/>
<rect x="311.3" y="387.6" width="18.30000000000001" height="15.4" fill="#4f72bc" stroke="#111" stroke-width="1.5"/>
<text x="314.54" y="399.90" font-size="11.8" fill="#ffffff" textLength="11.81" lengthAdjust="spacingAndGlyphs" stroke="#ffffff" stroke-width="0.25">L6</text>
<rect x="315.05" y="417.6" width="10.9" height="15.7" fill="#4f72bc" stroke="#111" stroke-width="1.5"/>
<rect x="334.4" y="387.6" width="18.200000000000045" height="15.4" fill="#1e3a96" stroke="#111" stroke-width="1.5"/>
<text x="337.59" y="399.90" font-size="11.8" fill="#ffffff" textLength="11.81" lengthAdjust="spacingAndGlyphs" stroke="#ffffff" stroke-width="0.25">L8</text>
<rect x="338.05" y="417.6" width="10.9" height="15.7" fill="#1e3a96" stroke="#111" stroke-width="1.5"/>
<path d="M384 364.3V376H371.15M384 376H395.25M371.15 376V387.6M395.25 376V387.6M371.8 403V417.5M395.6 403V417.5" stroke="#111" stroke-width="1.55" fill="none"/>
<rect x="362.1" y="387.6" width="18.099999999999966" height="15.4" fill="#46a2ea" stroke="#111" stroke-width="1.5"/>
<text x="365.24" y="399.90" font-size="11.8" fill="#ffffff" textLength="11.81" lengthAdjust="spacingAndGlyphs" stroke="#ffffff" stroke-width="0.25">L3</text>
<rect x="366.35" y="417.6" width="10.9" height="15.7" fill="#46a2ea" stroke="#111" stroke-width="1.5"/>
<rect x="386.2" y="387.6" width="18.100000000000023" height="15.4" fill="#4f72bc" stroke="#111" stroke-width="1.5"/>
<text x="389.34" y="399.90" font-size="11.8" fill="#ffffff" textLength="11.81" lengthAdjust="spacingAndGlyphs" stroke="#ffffff" stroke-width="0.25">L6</text>
<rect x="390.15000000000003" y="417.6" width="10.9" height="15.7" fill="#4f72bc" stroke="#111" stroke-width="1.5"/>
<path d="M550 364.3V376H434.9M550 376H665.0M434.9 376V387.6M470.5 376V387.6M524.15 376V387.6M589.75 376V387.6M636.4 376V387.6M665.0 376V387.6M434.8 403V417.5M459.8 403V417.5M480.6 403V417.5M503 403V417.5M524.8 403V417.5M546.2 403V417.5M568.3 403V417.5M590 403V417.5M611 403V417.5M636.3 403V417.5M665 403V417.5" stroke="#111" stroke-width="1.55" fill="none"/>
<rect x="426" y="387.6" width="17.80000000000001" height="15.4" fill="#e3edf8" stroke="#111" stroke-width="1.5"/>
<text x="428.99" y="399.90" font-size="11.8" fill="#8a8f96" textLength="11.81" lengthAdjust="spacingAndGlyphs" stroke="#8a8f96" stroke-width="0.25">L1</text>
<rect x="429.35" y="417.6" width="10.9" height="15.7" fill="#e3edf8" stroke="#111" stroke-width="1.5"/>
<rect x="454" y="387.6" width="33" height="15.4" fill="#7db8ec" stroke="#111" stroke-width="1.5"/>
<text x="464.59" y="399.90" font-size="11.8" fill="#ffffff" textLength="11.81" lengthAdjust="spacingAndGlyphs" stroke="#ffffff" stroke-width="0.25">L2</text>
<rect x="454.35" y="417.6" width="10.9" height="15.7" fill="#7db8ec" stroke="#111" stroke-width="1.5"/>
<rect x="475.15000000000003" y="417.6" width="10.9" height="15.7" fill="#7db8ec" stroke="#111" stroke-width="1.5"/>
<rect x="496" y="387.6" width="56.299999999999955" height="15.4" fill="#4a90d9" stroke="#111" stroke-width="1.5"/>
<text x="518.24" y="399.90" font-size="11.8" fill="#ffffff" textLength="11.81" lengthAdjust="spacingAndGlyphs" stroke="#ffffff" stroke-width="0.25">L4</text>
<rect x="497.55" y="417.6" width="10.9" height="15.7" fill="#4a90d9" stroke="#111" stroke-width="1.5"/>
<rect x="519.3499999999999" y="417.6" width="10.9" height="15.7" fill="#4a90d9" stroke="#111" stroke-width="1.5"/>
<rect x="540.75" y="417.6" width="10.9" height="15.7" fill="#4a90d9" stroke="#111" stroke-width="1.5"/>
<rect x="562.5" y="387.6" width="54.5" height="15.4" fill="#4478d0" stroke="#111" stroke-width="1.5"/>
<text x="583.84" y="399.90" font-size="11.8" fill="#ffffff" textLength="11.81" lengthAdjust="spacingAndGlyphs" stroke="#ffffff" stroke-width="0.25">L5</text>
<rect x="562.8499999999999" y="417.6" width="10.9" height="15.7" fill="#4478d0" stroke="#111" stroke-width="1.5"/>
<rect x="584.55" y="417.6" width="10.9" height="15.7" fill="#4478d0" stroke="#111" stroke-width="1.5"/>
<rect x="605.55" y="417.6" width="10.9" height="15.7" fill="#4478d0" stroke="#111" stroke-width="1.5"/>
<rect x="627" y="387.6" width="18.799999999999955" height="15.4" fill="#4f72bc" stroke="#111" stroke-width="1.5"/>
<text x="630.49" y="399.90" font-size="11.8" fill="#ffffff" textLength="11.81" lengthAdjust="spacingAndGlyphs" stroke="#ffffff" stroke-width="0.25">L6</text>
<rect x="630.8499999999999" y="417.6" width="10.9" height="15.7" fill="#4f72bc" stroke="#111" stroke-width="1.5"/>
<rect x="655.5" y="387.6" width="19.0" height="15.4" fill="#1e3a96" stroke="#111" stroke-width="1.5"/>
<text x="659.09" y="399.90" font-size="11.8" fill="#ffffff" textLength="11.81" lengthAdjust="spacingAndGlyphs" stroke="#ffffff" stroke-width="0.25">L8</text>
<rect x="659.55" y="417.6" width="10.9" height="15.7" fill="#1e3a96" stroke="#111" stroke-width="1.5"/>
<path d="M717 364.3V376H693.5M717 376H740.9M693.5 376V387.6M717.4 376V387.6M740.9 376V387.6M694 403V417.5M717 403V417.5M741 403V417.5" stroke="#111" stroke-width="1.55" fill="none"/>
<rect x="684" y="387.6" width="19" height="15.4" fill="#7db8ec" stroke="#111" stroke-width="1.5"/>
<text x="687.59" y="399.90" font-size="11.8" fill="#ffffff" textLength="11.81" lengthAdjust="spacingAndGlyphs" stroke="#ffffff" stroke-width="0.25">L2</text>
<rect x="688.55" y="417.6" width="10.9" height="15.7" fill="#7db8ec" stroke="#111" stroke-width="1.5"/>
<rect x="708" y="387.6" width="18.799999999999955" height="15.4" fill="#46a2ea" stroke="#111" stroke-width="1.5"/>
<text x="711.49" y="399.90" font-size="11.8" fill="#ffffff" textLength="11.81" lengthAdjust="spacingAndGlyphs" stroke="#ffffff" stroke-width="0.25">L3</text>
<rect x="711.55" y="417.6" width="10.9" height="15.7" fill="#46a2ea" stroke="#111" stroke-width="1.5"/>
<rect x="731" y="387.6" width="19.799999999999955" height="15.4" fill="#3a4f9e" stroke="#111" stroke-width="1.5"/>
<text x="734.99" y="399.90" font-size="11.8" fill="#ffffff" textLength="11.81" lengthAdjust="spacingAndGlyphs" stroke="#ffffff" stroke-width="0.25">L7</text>
<rect x="735.55" y="417.6" width="10.9" height="15.7" fill="#3a4f9e" stroke="#111" stroke-width="1.5"/>
<text x="236.00" y="470.50" font-size="11.5" fill="#1a1a1a" stroke="#1a1a1a" stroke-width="0.25" textLength="61.00" lengthAdjust="spacingAndGlyphs">Intra-batch</text>
<text x="347.50" y="470.50" font-size="11.5" fill="#1a1a1a" stroke="#1a1a1a" stroke-width="0.25" textLength="83.50" lengthAdjust="spacingAndGlyphs">Cross-protocol</text>
<text x="484.00" y="470.50" font-size="11.5" fill="#1a1a1a" stroke="#1a1a1a" stroke-width="0.25" textLength="60.50" lengthAdjust="spacingAndGlyphs">Cross-time</text>
<text x="590.00" y="470.50" font-size="11.5" fill="#1a1a1a" stroke="#1a1a1a" stroke-width="0.25" textLength="53.00" lengthAdjust="spacingAndGlyphs">Cross-lab</text>
<text x="655.50" y="470.50" font-size="11.5" fill="#1a1a1a" stroke="#1a1a1a" stroke-width="0.25" textLength="83.30" lengthAdjust="spacingAndGlyphs">Cross-platform</text>
<text x="201.00" y="503.20" font-size="12.5" fill="#1a1a1a" stroke="#1a1a1a" stroke-width="0.25" textLength="45.50" lengthAdjust="spacingAndGlyphs">Quartet</text>
<text x="525.00" y="503.20" font-size="12.5" fill="#1a1a1a" stroke="#1a1a1a" stroke-width="0.25" textLength="118.00" lengthAdjust="spacingAndGlyphs">MAQC (as controls)</text>
<rect x="54.6" y="511.4" width="338.9" height="45.9" fill="#fbefc9" stroke="#4a4a4a" stroke-width="1.3" stroke-dasharray="4.4 2.2" rx="1"/>
<rect x="414.8" y="511.4" width="338.2" height="47.4" fill="#dde7f3" stroke="#4a4a4a" stroke-width="1.3" stroke-dasharray="4.4 2.2" rx="1"/>
<text x="84.00" y="530.50" font-size="14" stroke-width="0.25" textLength="88.50" lengthAdjust="spacingAndGlyphs" xml:space="preserve"><tspan fill="#e8392b" stroke="#e8392b">252</tspan><tspan fill="#1a1a1a" stroke="#1a1a1a"> RNA-seq</tspan></text>
<text x="100.75" y="546.50" font-size="14" fill="#1a1a1a" stroke="#1a1a1a" stroke-width="0.25" textLength="55.25" lengthAdjust="spacingAndGlyphs">libraries</text>
<text x="186.20" y="539.00" font-size="13" fill="#1a1a1a" stroke="#1a1a1a" stroke-width="0.25" textLength="7.59" lengthAdjust="spacingAndGlyphs">=</text>
<text x="206.00" y="530.50" font-size="14" stroke-width="0.25" textLength="74.00" lengthAdjust="spacingAndGlyphs" xml:space="preserve"><tspan fill="#e8392b" stroke="#e8392b">12</tspan><tspan fill="#1a1a1a" stroke="#1a1a1a"> libraries</tspan></text>
<text x="209.00" y="546.50" font-size="14" fill="#1a1a1a" stroke="#1a1a1a" stroke-width="0.25" textLength="65.50" lengthAdjust="spacingAndGlyphs">per batch</text>
<text x="294.20" y="538.00" font-size="13" fill="#1a1a1a" textLength="7.59" lengthAdjust="spacingAndGlyphs" stroke="#1a1a1a" stroke-width="0.4">×</text>
<text x="333.82" y="530.50" font-size="14" fill="#e8392b" stroke="#e8392b" stroke-width="0.25" textLength="16.35" lengthAdjust="spacingAndGlyphs">21</text>
<text x="315.50" y="546.50" font-size="14" fill="#1a1a1a" stroke="#1a1a1a" stroke-width="0.25" textLength="54.00" lengthAdjust="spacingAndGlyphs">batches</text>
<text x="434.00" y="530.50" font-size="14" stroke-width="0.25" textLength="88.50" lengthAdjust="spacingAndGlyphs" xml:space="preserve"><tspan fill="#e8392b" stroke="#e8392b">120</tspan><tspan fill="#1a1a1a" stroke="#1a1a1a"> RNA-seq</tspan></text>
<text x="451.00" y="546.50" font-size="14" fill="#1a1a1a" stroke="#1a1a1a" stroke-width="0.25" textLength="55.00" lengthAdjust="spacingAndGlyphs">libraries</text>
<text x="537.20" y="539.00" font-size="13" fill="#1a1a1a" stroke="#1a1a1a" stroke-width="0.25" textLength="7.59" lengthAdjust="spacingAndGlyphs">=</text>
<text x="561.00" y="530.50" font-size="14" stroke-width="0.25" textLength="68.50" lengthAdjust="spacingAndGlyphs" xml:space="preserve"><tspan fill="#e8392b" stroke="#e8392b">6</tspan><tspan fill="#1a1a1a" stroke="#1a1a1a"> libraries</tspan></text>
<text x="560.50" y="546.50" font-size="14" fill="#1a1a1a" stroke="#1a1a1a" stroke-width="0.25" textLength="65.50" lengthAdjust="spacingAndGlyphs">per batch</text>
<text x="647.00" y="538.00" font-size="13" fill="#1a1a1a" textLength="7.59" lengthAdjust="spacingAndGlyphs" stroke="#1a1a1a" stroke-width="0.4">×</text>
<text x="689.32" y="530.50" font-size="14" fill="#e8392b" stroke="#e8392b" stroke-width="0.25" textLength="16.35" lengthAdjust="spacingAndGlyphs">20</text>
<text x="670.80" y="546.50" font-size="14" fill="#1a1a1a" stroke="#1a1a1a" stroke-width="0.25" textLength="54.20" lengthAdjust="spacingAndGlyphs">batches</text>
<text x="6.30" y="605.80" font-size="17.6" fill="#000" textLength="9.80" lengthAdjust="spacingAndGlyphs" font-weight="bold" stroke="#000" stroke-width="1.0" stroke-linejoin="round">b</text>
<text x="98.00" y="622.80" font-size="12.8" fill="#1a1a1a" stroke="#1a1a1a" stroke-width="0.25" textLength="33.00" lengthAdjust="spacingAndGlyphs">PolyA</text>
<text x="292.00" y="622.80" font-size="12.8" fill="#1a1a1a" stroke="#1a1a1a" stroke-width="0.25" textLength="53.50" lengthAdjust="spacingAndGlyphs">RiboZero</text>
<rect x="31" y="631.5" width="169" height="162.5" fill="#fff" stroke="#585858" stroke-width="1.0"/>
<rect x="235.4" y="631.5" width="168" height="162.5" fill="#fff" stroke="#585858" stroke-width="1.0"/>
<text x="88.50" y="808.30" font-size="11.8" fill="#1a1a1a" stroke="#1a1a1a" stroke-width="0.25" textLength="54.00" lengthAdjust="spacingAndGlyphs">PC1 (37%)</text>
<text x="292.00" y="808.30" font-size="11.8" fill="#1a1a1a" stroke="#1a1a1a" stroke-width="0.25" textLength="54.00" lengthAdjust="spacingAndGlyphs">PC1 (33%)</text>
<text transform="translate(25.8 713.5) rotate(-90)" x="-27.00" y="0" font-size="11.8" fill="#1a1a1a" textLength="54.00" lengthAdjust="spacingAndGlyphs">PC2 (16%)</text>
<text transform="translate(226.6 713.5) rotate(-90)" x="-27.00" y="0" font-size="11.8" fill="#1a1a1a" textLength="54.00" lengthAdjust="spacingAndGlyphs">PC2 (14%)</text>
<polygon points="35.85,643.50 40.69,637.87 41.81,639.56 45.19,636.19 49.12,639.22 46.87,641.81 48.00,644.06 47.44,650.25 42.37,651.94 38.44,654.52 36.19,651.94" fill="#7673b9"/>
<polygon points="95.94,768.44 99.06,767.81 101.56,762.50 103.44,765.62 105.00,764.69 106.88,764.38 109.06,766.88 107.50,772.50 106.25,772.81 103.75,780.62 97.19,780.94 95.94,778.75 96.88,776.25 95.94,774.38" fill="#e8579f"/>
<polygon points="90.31,786.88 91.56,784.38 95.00,782.50 100.00,782.81 100.00,787.50 96.56,788.75 94.38,790.62 91.88,789.69" fill="#e8579f" stroke="#e8579f" stroke-width="0.6" stroke-linejoin="round"/>
<polygon points="160.94,690.94 165.00,684.38 169.06,690.94" fill="#f9c45c"/>
<polygon points="175.94,681.56 177.00,681.25 177.00,687.50 175.94,688.12" fill="#f9c45c"/>
<polygon points="176.25,697.50 177.50,695.00 181.25,693.75 185.00,690.00 190.00,686.25 191.25,681.25 193.12,678.75 193.75,677.81 191.88,685.00 191.56,687.50 188.75,691.25 187.50,696.25 184.38,696.88 182.50,700.00 179.38,701.25 176.88,700.00" fill="#5bbcdc" stroke="#5bbcdc" stroke-width="0.8" stroke-linejoin="round"/>
<polygon points="183.12,686.25 187.50,681.88 191.88,678.75 193.44,677.81 191.56,680.94 187.50,685.00 186.25,688.75 184.38,688.12" fill="#79c9a6"/>
<polygon points="175.00,689.38 176.88,688.12 176.25,681.88 180.00,678.75 183.12,676.25 185.00,678.12 189.38,673.75 192.81,676.56 190.00,680.00 187.50,680.62 186.25,682.50 187.50,685.00 186.25,688.12 184.38,689.38 183.12,686.25 181.88,687.50 182.50,691.25 180.00,693.12 176.88,693.12 176.56,696.25 175.00,695.62" fill="#ea6543"/>
<polygon points="184.06,678.44 186.25,677.50 188.12,680.00 186.25,680.94 184.38,680.00" fill="#f9c45c"/>
<polygon points="239.90,637.50 246.90,637.50 243.40,645.50" fill="none" stroke="#7673b9" stroke-width="2.4" stroke-linejoin="round"/>
<circle cx="245.6" cy="659.3" r="4.2" fill="#7673b9"/>
<polygon points="251.60,654.20 252.44,656.57 254.71,655.49 253.63,657.76 256.00,658.60 253.63,659.44 254.71,661.71 252.44,660.63 251.60,663.00 250.76,660.63 248.49,661.71 249.57,659.44 247.20,658.60 249.57,657.76 248.49,655.49 250.76,656.57" fill="#7673b9"/>
<rect x="243" y="660" width="10.6" height="17.4" rx="1" fill="#7673b9"/>
<rect x="241.6" y="662" width="13.6" height="7" rx="1.5" fill="#7673b9"/>
<polygon points="292.80,760.40 300.80,760.40 296.80,767.60" fill="none" stroke="#e8579f" stroke-width="1.9" stroke-linejoin="round"/>
<polygon points="304.20,766.20 305.25,769.16 307.84,767.38 306.96,770.40 310.10,770.48 307.61,772.40 310.10,774.32 306.96,774.40 307.84,777.42 305.25,775.64 304.20,778.60 303.15,775.64 300.56,777.42 301.44,774.40 298.30,774.32 300.79,772.40 298.30,770.48 301.44,770.40 300.56,767.38 303.15,769.16" fill="#e8579f"/>
<rect x="299.4" y="769" width="8" height="20.6" rx="1" fill="#e8579f"/>
<rect x="297.4" y="781" width="11.4" height="8.8" rx="1.2" fill="#e8579f"/>
<polygon points="387.40,671.80 388.29,674.56 390.74,673.02 389.65,675.70 392.52,676.10 389.96,677.45 391.90,679.60 389.07,678.99 389.18,681.89 387.40,679.60 385.62,681.89 385.73,678.99 382.90,679.60 384.84,677.45 382.28,676.10 385.15,675.70 384.06,673.02 386.51,674.56" fill="#79c9a6"/>
<polygon points="393.40,675.44 393.43,678.45 396.34,677.67 394.43,680.00 397.16,681.28 394.20,681.83 395.47,684.56 392.85,683.09 392.06,685.99 391.00,683.18 388.54,684.90 389.53,682.06 386.53,681.80 389.12,680.26 387.00,678.13 389.97,678.62 389.71,675.62 391.67,677.90" fill="#5bbcdc"/>
<polygon points="373.13,687.75 376.50,685.88 397.50,685.50 397.88,690.00 393.00,691.50 375.00,690.75" fill="#79c9a6"/>
<polygon points="390.00,690.00 397.50,688.50 399.00,693.00 397.50,699.00 399.00,702.75 396.75,708.00 396.75,711.75 393.00,712.50 390.00,705.00" fill="#5bbcdc"/>
<polygon points="381.00,688.50 387.00,688.50 389.25,693.00 384.00,695.25 381.00,693.00" fill="#5bbcdc"/>
<polygon points="384.80,675.90 385.62,678.21 387.84,677.16 386.79,679.38 389.10,680.20 386.79,681.02 387.84,683.24 385.62,682.19 384.80,684.50 383.98,682.19 381.76,683.24 382.81,681.02 380.50,680.20 382.81,679.38 381.76,677.16 383.98,678.21" fill="#f9c45c"/>
<polygon points="386.00,681.20 386.97,684.13 389.98,683.50 387.93,685.80 389.98,688.10 386.97,687.47 386.00,690.40 385.03,687.47 382.02,688.10 384.07,685.80 382.02,683.50 385.03,684.13" fill="#ea6543"/>
<polygon points="371.25,690.00 378.00,689.63 378.75,692.25 372.00,695.25" fill="#f9c45c"/>
<circle cx="390.2" cy="692.4" r="4.2" fill="#f9c45c"/>
<polygon points="384.00,702.00 394.50,702.00 394.50,708.75 393.00,712.50 384.00,712.50" fill="#79c9a6"/>
<polygon points="385.50,703.13 394.13,703.13 394.13,708.00 385.50,708.00" fill="#f9c45c"/>
<polygon points="373.13,692.25 378.75,691.50 381.00,695.25 385.50,696.75 389.25,694.13 393.75,695.25 394.50,698.25 390.00,700.50 387.00,702.00 385.50,704.25 381.75,705.00 378.75,701.63 374.63,700.88 373.13,697.50" fill="#ea6543" stroke="#ea6543" stroke-width="0.8" stroke-linejoin="round"/>
<polygon points="383.63,705.38 392.63,705.00 392.63,713.25 383.63,713.63" fill="#ea6543"/>
<rect x="379.4" y="709.2" width="6.6" height="6.8" fill="#ea6543" stroke="#ea6543" stroke-width="1.2"/>
<rect x="384.4" y="712.4" width="7" height="4.6" fill="#ea6543" stroke="#ea6543" stroke-width="1.2"/>
<path d="M380.4 711.2H384.6M380.4 714.4H384M386.6 714.6H390.4" stroke="#f9c45c" stroke-width="0.9"/>
<polygon points="379.13,702.00 380.25,701.25 382.50,703.88 381.75,704.63" fill="#ffffff"/>
<polygon points="363.20,676.10 372.80,676.10 368.00,682.70" fill="#79c9a6" stroke="#79c9a6" stroke-width="1.2" stroke-linejoin="round"/>
<polygon points="368.50,677.40 377.50,677.40 373.00,685.80" fill="#5bbcdc" stroke="#5bbcdc" stroke-width="1.2" stroke-linejoin="round"/>
<polygon points="352.50,682.40 358.70,682.40 355.60,688.80" fill="none" stroke="#f9c45c" stroke-width="1.2" stroke-linejoin="round"/>
<polygon points="359.60,682.70 368.80,682.70 364.20,693.70" fill="none" stroke="#ea6543" stroke-width="1.5" stroke-linejoin="round"/>
<polygon points="361.90,683.30 367.30,683.30 364.60,687.90" fill="#ea6543" stroke="#ea6543" stroke-width="1.2" stroke-linejoin="round"/>
<text x="414.50" y="658.00" font-size="12.5" fill="#1a1a1a" stroke="#1a1a1a" stroke-width="0.25" textLength="34.50" lengthAdjust="spacingAndGlyphs">Group</text>
<circle cx="422.6" cy="671.0" r="4" fill="#6fc4de"/>
<text x="431.00" y="675.00" font-size="10.5" fill="#1a1a1a" stroke="#1a1a1a" stroke-width="0.25" textLength="14.23" lengthAdjust="spacingAndGlyphs">D5</text>
<circle cx="422.6" cy="688.2" r="4" fill="#85c9a4"/>
<text x="431.00" y="692.20" font-size="10.5" fill="#1a1a1a" stroke="#1a1a1a" stroke-width="0.25" textLength="14.23" lengthAdjust="spacingAndGlyphs">D6</text>
<circle cx="422.6" cy="705.4" r="4" fill="#f9c66b"/>
<text x="431.00" y="709.40" font-size="10.5" fill="#1a1a1a" stroke="#1a1a1a" stroke-width="0.25" textLength="12.99" lengthAdjust="spacingAndGlyphs">F7</text>
<circle cx="422.6" cy="722.6" r="4" fill="#e4694a"/>
<text x="431.00" y="726.60" font-size="10.5" fill="#1a1a1a" stroke="#1a1a1a" stroke-width="0.25" textLength="15.46" lengthAdjust="spacingAndGlyphs">M8</text>
<circle cx="422.6" cy="739.8" r="4" fill="#e0569e"/>
<text x="431.00" y="743.80" font-size="10.5" fill="#1a1a1a" stroke="#1a1a1a" stroke-width="0.25" textLength="7.42" lengthAdjust="spacingAndGlyphs">A</text>
<circle cx="422.6" cy="757.0" r="4" fill="#6f66a0"/>
<text x="431.00" y="761.00" font-size="10.5" fill="#1a1a1a" stroke="#1a1a1a" stroke-width="0.25" textLength="7.42" lengthAdjust="spacingAndGlyphs">B</text>
<text x="409.00" y="781.00" font-size="12.8" fill="#1a1a1a" stroke="#1a1a1a" stroke-width="0.25" textLength="60.00" lengthAdjust="spacingAndGlyphs">Shaped by</text>
<text x="422.50" y="794.50" font-size="12.8" fill="#1a1a1a" stroke="#1a1a1a" stroke-width="0.25" textLength="32.50" lengthAdjust="spacingAndGlyphs">batch</text>
<text x="474.10" y="605.80" font-size="14.4" fill="#000" textLength="8.60" lengthAdjust="spacingAndGlyphs" font-weight="bold" stroke="#000" stroke-width="1.0" stroke-linejoin="round">c</text>
<rect x="538" y="601.8" width="225.6" height="154.8" fill="#fff" stroke="#6e6e6e" stroke-width="1.1"/>
<text x="523.80" y="754.60" font-size="11.5" fill="#1a1a1a" stroke="#1a1a1a" stroke-width="0.25" textLength="6.40" lengthAdjust="spacingAndGlyphs">0</text>
<text x="499.80" y="721.25" font-size="11.5" fill="#1a1a1a" stroke="#1a1a1a" stroke-width="0.25" textLength="30.40" lengthAdjust="spacingAndGlyphs">5,000</text>
<text x="496.00" y="687.90" font-size="11.5" fill="#1a1a1a" stroke="#1a1a1a" stroke-width="0.25" textLength="34.20" lengthAdjust="spacingAndGlyphs">10,000</text>
<text x="496.00" y="654.55" font-size="11.5" fill="#1a1a1a" stroke="#1a1a1a" stroke-width="0.25" textLength="34.20" lengthAdjust="spacingAndGlyphs">15,000</text>
<text x="493.60" y="621.20" font-size="11.5" fill="#1a1a1a" stroke="#1a1a1a" stroke-width="0.25" textLength="36.60" lengthAdjust="spacingAndGlyphs">20,000</text>
<path d="M534.6 750.40H538M534.6 717.05H538M534.6 683.70H538M534.6 650.35H538M534.6 617.00H538M559.6 756.6V760.2M596 756.6V760.2M632.4 756.6V760.2M668.8 756.6V760.2M705.2 756.6V760.2M741.7 756.6V760.2" stroke="#4d4d4d" stroke-width="1.1" fill="none"/>
<text transform="translate(484.2 680) rotate(-90)" x="-46.25" y="0" font-size="12.5" fill="#1a1a1a" textLength="92.50" lengthAdjust="spacingAndGlyphs">Number of DEGs</text>
<path d="M559.6 738.00V742.70M559.6 747.40V750.30" stroke="#333333" stroke-width="1.6" fill="none"/>
<rect x="545.40" y="742.70" width="28.4" height="4.70" fill="#333333" stroke="#333333" stroke-width="1.5"/>
<path d="M545.40 745.00H573.80" stroke="#333333" stroke-width="2.9"/>
<circle cx="559.6" cy="734.40" r="1.7" fill="#333333"/>
<path d="M596 722.00V733.50M596 741.50V746.00" stroke="#333333" stroke-width="1.6" fill="none"/>
<rect x="581.80" y="733.50" width="28.4" height="8.00" fill="#5fb7d6" stroke="#333333" stroke-width="1.5"/>
<path d="M581.80 737.30H610.20" stroke="#333333" stroke-width="2.9"/>
<circle cx="596" cy="717.00" r="1.7" fill="#333333"/>
<circle cx="596" cy="719.60" r="1.7" fill="#333333"/>
<path d="M632.4 720.00V726.50M632.4 735.00V741.00" stroke="#333333" stroke-width="1.6" fill="none"/>
<rect x="618.20" y="726.50" width="28.4" height="8.50" fill="#dc553d" stroke="#333333" stroke-width="1.5"/>
<path d="M618.20 731.00H646.60" stroke="#333333" stroke-width="2.9"/>
<path d="M668.8 682.50V703.50M668.8 729.40V739.70" stroke="#333333" stroke-width="1.6" fill="none"/>
<rect x="654.60" y="703.50" width="28.4" height="25.90" fill="#5fb7d6" stroke="#333333" stroke-width="1.5"/>
<path d="M654.60 718.00H683.00" stroke="#333333" stroke-width="2.9"/>
<path d="M705.2 661.00V686.80M705.2 713.40V731.30" stroke="#333333" stroke-width="1.6" fill="none"/>
<rect x="691.00" y="686.80" width="28.4" height="26.60" fill="#5fb7d6" stroke="#333333" stroke-width="1.5"/>
<path d="M691.00 697.50H719.40" stroke="#333333" stroke-width="2.9"/>
<path d="M741.7 609.50V624.50M741.7 650.00V673.80" stroke="#333333" stroke-width="1.6" fill="none"/>
<rect x="727.50" y="624.50" width="28.4" height="25.50" fill="#dc553d" stroke="#333333" stroke-width="1.5"/>
<path d="M727.50 640.00H755.90" stroke="#333333" stroke-width="2.9"/>
<text x="549.50" y="617.50" font-size="12.5" fill="#1a1a1a" stroke="#1a1a1a" stroke-width="0.25" textLength="41.00" lengthAdjust="spacingAndGlyphs">Dataset</text>
<path d="M554.6 625.4V635.8000000000001" stroke="#333333" stroke-width="1.2"/>
<rect x="549.4" y="627.2" width="10.4" height="6.8" fill="#dc553d" stroke="#333333" stroke-width="1.2"/>
<path d="M549.4 630.6H559.8" stroke="#333333" stroke-width="1.6"/>
<path d="M554.6 642.8V653.2" stroke="#333333" stroke-width="1.2"/>
<rect x="549.4" y="644.6" width="10.4" height="6.8" fill="#5fb7d6" stroke="#333333" stroke-width="1.2"/>
<path d="M549.4 648H559.8" stroke="#333333" stroke-width="1.6"/>
<text x="565.00" y="634.60" font-size="12.5" fill="#1a1a1a" stroke="#1a1a1a" stroke-width="0.25" textLength="111.50" lengthAdjust="spacingAndGlyphs">Reference materials</text>
<text x="565.00" y="652.20" font-size="12.5" fill="#1a1a1a" stroke="#1a1a1a" stroke-width="0.25" textLength="98.50" lengthAdjust="spacingAndGlyphs">Clinical scenarios</text>
<text transform="translate(559.50 771.30) rotate(-45)" x="-32.01" y="0" font-size="12" fill="#1a1a1a" textLength="32.01" lengthAdjust="spacingAndGlyphs">TNBC</text>
<text transform="translate(575.46 773.64) rotate(-45)" x="-48.75" y="0" font-size="12" fill="#1a1a1a" textLength="48.75" lengthAdjust="spacingAndGlyphs">subtypes</text>
<text transform="translate(594.70 772.30) rotate(-45)" x="-31.67" y="0" font-size="12" fill="#1a1a1a" textLength="31.67" lengthAdjust="spacingAndGlyphs">BRCA</text>
<text transform="translate(611.00 773.60) rotate(-45)" x="-48.75" y="0" font-size="12" fill="#1a1a1a" textLength="48.75" lengthAdjust="spacingAndGlyphs">subtypes</text>
<text transform="translate(638.00 771.50) rotate(-45)" x="-41.82" y="0" font-size="12" fill="#1a1a1a" textLength="41.82" lengthAdjust="spacingAndGlyphs">Quartet</text>
<text transform="translate(673.50 773.50) rotate(-45)" x="-36.28" y="0" font-size="12" fill="#1a1a1a" textLength="36.28" lengthAdjust="spacingAndGlyphs">Tumor</text>
<text transform="translate(685.37 779.53) rotate(-45)" x="-39.59" y="0" font-size="12" fill="#1a1a1a" textLength="39.59" lengthAdjust="spacingAndGlyphs">tissues</text>
<text transform="translate(711.70 773.50) rotate(-45)" x="-40.99" y="0" font-size="12" fill="#1a1a1a" textLength="40.99" lengthAdjust="spacingAndGlyphs">Normal</text>
<text transform="translate(721.90 781.90) rotate(-45)" x="-39.59" y="0" font-size="12" fill="#1a1a1a" textLength="39.59" lengthAdjust="spacingAndGlyphs">tissues</text>
<text transform="translate(749.50 771.50) rotate(-45)" x="-38.16" y="0" font-size="12" fill="#1a1a1a" textLength="38.16" lengthAdjust="spacingAndGlyphs">MAQC</text>
<polygon points="556,833.2 767.8,816.5 767.8,832.8" fill="url(#gt)" stroke="#c4c4c4" stroke-width="0.5"/>
<text x="534.00" y="830.80" font-size="12.8" fill="#1a1a1a" stroke="#1a1a1a" stroke-width="0.25" textLength="68.00" lengthAdjust="spacingAndGlyphs">Inter-patient</text>
<text x="703.00" y="830.80" font-size="12.8" fill="#1a1a1a" stroke="#1a1a1a" stroke-width="0.25" textLength="62.30" lengthAdjust="spacingAndGlyphs">Inter-tissue</text>
<g fill="#e59c68" stroke="#e59c68" stroke-width="0.15"><text transform="translate(281.63 95.26) rotate(22.4) scale(0.62 1)" font-size="1.32" opacity="0.35">T</text><text transform="translate(282.35 95.55) rotate(22.5) scale(0.62 1)" font-size="1.37" opacity="0.35">A</text><text transform="translate(283.19 95.90) rotate(22.6) scale(0.62 1)" font-size="1.43" opacity="0.35">C</text><text transform="translate(284.06 96.27) rotate(22.7) scale(0.62 1)" font-size="1.49" opacity="0.35">C</text><text transform="translate(284.98 96.65) rotate(22.8) scale(0.62 1)" font-size="1.54" opacity="0.35">T</text><text transform="translate(285.82 97.01) rotate(22.9) scale(0.62 1)" font-size="1.60" opacity="0.35">G</text><text transform="translate(286.86 97.45) rotate(23.1) scale(0.62 1)" font-size="1.67" opacity="0.35">A</text><text transform="translate(287.88 97.88) rotate(23.2) scale(0.62 1)" font-size="1.74" opacity="0.35">A</text><text transform="translate(288.95 98.34) rotate(23.3) scale(0.62 1)" font-size="1.80" opacity="0.35">T</text><text transform="translate(289.93 98.77) rotate(23.4) scale(0.62 1)" font-size="1.87" opacity="0.35">C</text><text transform="translate(291.08 99.27) rotate(23.6) scale(0.62 1)" font-size="1.95" opacity="0.35">G</text><text transform="translate(292.35 99.82) rotate(23.8) scale(0.62 1)" font-size="2.03" opacity="0.37">G</text><text transform="translate(293.67 100.41) rotate(23.9) scale(0.62 1)" font-size="2.12" opacity="0.39">A</text><text transform="translate(294.97 100.99) rotate(24.1) scale(0.62 1)" font-size="2.20" opacity="0.40">C</text><text transform="translate(296.32 101.59) rotate(24.3) scale(0.62 1)" font-size="2.29" opacity="0.42">A</text><text transform="translate(297.73 102.23) rotate(24.4) scale(0.62 1)" font-size="2.38" opacity="0.43">T</text><text transform="translate(299.03 102.82) rotate(24.6) scale(0.62 1)" font-size="2.47" opacity="0.45">T</text><text transform="translate(300.38 103.45) rotate(24.8) scale(0.62 1)" font-size="2.63" opacity="0.48">A</text><text transform="translate(302.02 104.21) rotate(25.0) scale(0.62 1)" font-size="2.88" opacity="0.52">G</text><text transform="translate(303.92 105.09) rotate(25.2) scale(0.62 1)" font-size="3.15" opacity="0.57">G</text><text transform="translate(305.98 106.07) rotate(25.5) scale(0.62 1)" font-size="3.43" opacity="0.62">T</text><text transform="translate(307.88 106.98) rotate(25.7) scale(0.62 1)" font-size="3.72" opacity="0.68">C</text><text transform="translate(310.19 108.10) rotate(26.0) scale(0.62 1)" font-size="4.05" opacity="0.74">A</text></g>
<g fill="#e59c68" stroke="#e59c68" stroke-width="0.15"><text transform="translate(280.34 102.17) rotate(26.2) scale(0.62 1)" font-size="1.24" opacity="0.35">A</text><text transform="translate(281.10 102.54) rotate(26.0) scale(0.62 1)" font-size="1.29" opacity="0.35">G</text><text transform="translate(281.94 102.95) rotate(25.9) scale(0.62 1)" font-size="1.34" opacity="0.35">T</text><text transform="translate(282.67 103.30) rotate(25.8) scale(0.62 1)" font-size="1.39" opacity="0.35">A</text><text transform="translate(283.52 103.71) rotate(25.7) scale(0.62 1)" font-size="1.45" opacity="0.35">C</text><text transform="translate(284.41 104.14) rotate(25.5) scale(0.62 1)" font-size="1.51" opacity="0.35">C</text><text transform="translate(285.34 104.58) rotate(25.4) scale(0.62 1)" font-size="1.57" opacity="0.35">T</text><text transform="translate(286.19 104.98) rotate(25.2) scale(0.62 1)" font-size="1.63" opacity="0.35">G</text><text transform="translate(287.25 105.48) rotate(25.1) scale(0.62 1)" font-size="1.70" opacity="0.35">A</text><text transform="translate(288.29 105.96) rotate(24.9) scale(0.62 1)" font-size="1.76" opacity="0.35">A</text><text transform="translate(289.37 106.46) rotate(24.7) scale(0.62 1)" font-size="1.83" opacity="0.35">T</text><text transform="translate(290.37 106.92) rotate(24.6) scale(0.62 1)" font-size="1.90" opacity="0.35">C</text><text transform="translate(291.54 107.45) rotate(24.4) scale(0.62 1)" font-size="1.98" opacity="0.36">G</text><text transform="translate(292.83 108.03) rotate(24.2) scale(0.62 1)" font-size="2.07" opacity="0.38">G</text><text transform="translate(294.17 108.63) rotate(23.9) scale(0.62 1)" font-size="2.15" opacity="0.39">A</text><text transform="translate(295.49 109.21) rotate(23.7) scale(0.62 1)" font-size="2.24" opacity="0.41">C</text><text transform="translate(296.86 109.82) rotate(23.5) scale(0.62 1)" font-size="2.33" opacity="0.42">A</text><text transform="translate(298.29 110.43) rotate(23.3) scale(0.62 1)" font-size="2.42" opacity="0.44">T</text><text transform="translate(299.61 111.00) rotate(23.0) scale(0.62 1)" font-size="2.51" opacity="0.46">T</text><text transform="translate(301.00 111.58) rotate(22.8) scale(0.62 1)" font-size="2.72" opacity="0.49">A</text><text transform="translate(302.69 112.29) rotate(22.5) scale(0.62 1)" font-size="2.97" opacity="0.54">G</text><text transform="translate(304.64 113.09) rotate(22.2) scale(0.62 1)" font-size="3.25" opacity="0.59">A</text><text transform="translate(306.67 113.91) rotate(21.8) scale(0.62 1)" font-size="3.55" opacity="0.65">G</text><text transform="translate(309.00 114.83) rotate(21.5) scale(0.62 1)" font-size="3.86" opacity="0.70">T</text><text transform="translate(311.13 115.66) rotate(21.1) scale(0.62 1)" font-size="4.18" opacity="0.76">C</text></g>
<g fill="#e59c68" stroke="#e59c68" stroke-width="0.15"><text transform="translate(281.63 108.78) rotate(24.2) scale(0.62 1)" font-size="1.32" opacity="0.35">T</text><text transform="translate(282.35 109.10) rotate(24.1) scale(0.62 1)" font-size="1.37" opacity="0.35">A</text><text transform="translate(283.19 109.48) rotate(24.0) scale(0.62 1)" font-size="1.43" opacity="0.35">C</text><text transform="translate(284.06 109.87) rotate(23.9) scale(0.62 1)" font-size="1.49" opacity="0.35">C</text><text transform="translate(284.98 110.27) rotate(23.8) scale(0.62 1)" font-size="1.54" opacity="0.35">T</text><text transform="translate(285.82 110.64) rotate(23.7) scale(0.62 1)" font-size="1.60" opacity="0.35">G</text><text transform="translate(286.86 111.10) rotate(23.6) scale(0.62 1)" font-size="1.67" opacity="0.35">A</text><text transform="translate(287.88 111.54) rotate(23.5) scale(0.62 1)" font-size="1.74" opacity="0.35">A</text><text transform="translate(288.95 112.01) rotate(23.4) scale(0.62 1)" font-size="1.80" opacity="0.35">T</text><text transform="translate(289.93 112.43) rotate(23.3) scale(0.62 1)" font-size="1.87" opacity="0.35">C</text><text transform="translate(291.08 112.92) rotate(23.2) scale(0.62 1)" font-size="1.95" opacity="0.35">G</text><text transform="translate(292.35 113.46) rotate(23.0) scale(0.62 1)" font-size="2.03" opacity="0.37">G</text><text transform="translate(293.67 114.02) rotate(22.9) scale(0.62 1)" font-size="2.12" opacity="0.39">A</text><text transform="translate(294.97 114.57) rotate(22.7) scale(0.62 1)" font-size="2.20" opacity="0.40">C</text><text transform="translate(296.32 115.13) rotate(22.6) scale(0.62 1)" font-size="2.29" opacity="0.42">A</text><text transform="translate(297.73 115.72) rotate(22.4) scale(0.62 1)" font-size="2.38" opacity="0.43">T</text><text transform="translate(299.03 116.25) rotate(22.3) scale(0.62 1)" font-size="2.47" opacity="0.45">T</text><text transform="translate(300.38 116.81) rotate(22.1) scale(0.62 1)" font-size="2.63" opacity="0.48">A</text><text transform="translate(302.02 117.47) rotate(22.0) scale(0.62 1)" font-size="2.88" opacity="0.52">G</text><text transform="translate(303.91 118.23) rotate(21.8) scale(0.62 1)" font-size="3.13" opacity="0.57">T</text><text transform="translate(305.64 118.91) rotate(21.6) scale(0.62 1)" font-size="3.39" opacity="0.62">C</text><text transform="translate(307.75 119.74) rotate(21.3) scale(0.62 1)" font-size="3.70" opacity="0.67">A</text><text transform="translate(310.05 120.64) rotate(21.1) scale(0.62 1)" font-size="4.04" opacity="0.73">G</text></g>
</svg>
</body></html>
